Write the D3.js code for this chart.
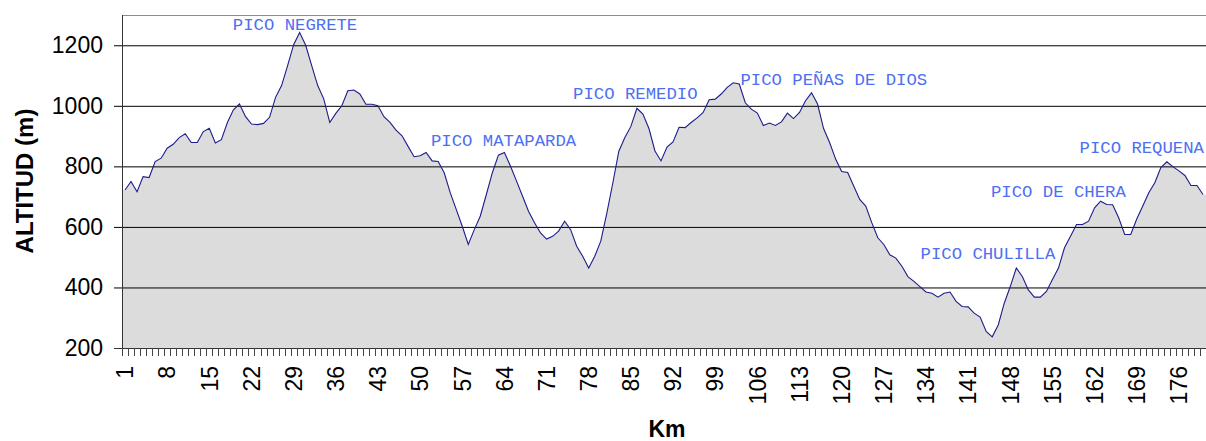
<!DOCTYPE html>
<html>
<head>
<meta charset="utf-8">
<script src="https://cdn.jsdelivr.net/npm/d3@7"></script>
<style>
  body { margin: 0; background: #fff; }
  svg { display: block; }
</style>
</head>
<body>
<svg id="profileChart"></svg>
<script>
// altitude (m) at every km of the route
var altitudes = [
  722, 750, 716, 766, 763, 816, 827, 860, 873, 895,
  908, 879, 879, 915, 926, 877, 888, 945, 987, 1006,
  965, 940, 938, 942, 962, 1028, 1067, 1133, 1202, 1242,
  1200, 1133, 1067, 1023, 945, 975, 1000, 1050, 1052, 1039,
  1005, 1005, 1000, 964, 945, 920, 901, 866, 832, 835,
  846, 818, 816, 779, 713, 658, 602, 542, 591, 636,
  707, 779, 837, 846, 801, 752, 702, 652, 614, 580,
  560, 569, 586, 619, 591, 536, 503, 464, 503, 553,
  645, 745, 850, 895, 932, 992, 973, 925, 851, 818,
  864, 881, 929, 928, 945, 960, 978, 1020, 1022, 1039,
  1061, 1076, 1072, 1010, 989, 976, 935, 943, 935, 947,
  976, 958, 978, 1017, 1043, 1006, 925, 879, 824, 783,
  780, 735, 691, 669, 614, 564, 542, 508, 497, 470,
  436, 420, 403, 385, 381, 368, 381, 385, 354, 337,
  336, 315, 302, 255, 237, 276, 348, 403, 464, 436,
  392, 368, 368, 387, 426, 464, 531, 569, 608, 608,
  619, 663, 685, 674, 673, 630, 575, 575, 626, 669,
  713, 746, 796, 815, 799, 785, 770, 737, 737, 707
];
var km = altitudes.map(function (d, i) { return i + 1; });

var yTicks = [200, 400, 600, 800, 1000, 1200];
var kmLabels = km.filter(function (d) { return (d - 1) % 7 === 0; });

// peak names, where their text starts (km) and its baseline (m)
var peakNames = ["PICO NEGRETE", "PICO MATAPARDA", "PICO REMEDIO", "PICO PEÑAS DE DIOS",
                 "PICO CHULILLA", "PICO DE CHERA", "PICO REQUENA"];
var peakKm = [18.9, 51.8, 75.4, 103.2, 133.1, 144.8, 159.5];
var peakAlt = [1250, 867, 1021, 1069, 494, 700, 844];

var width = 1206, height = 441;
var margin = {top: 15, right: 0, bottom: 93, left: 122};

var svg = d3.select("#profileChart")
  .attr("width", width)
  .attr("height", height);

var x = d3.scaleBand()
  .domain(km)
  .range([margin.left, width - margin.right])
  .paddingInner(0).paddingOuter(0);
var bw = x.bandwidth();

// continuous km scale matching the bands, for the text labels
var xk = d3.scaleLinear()
  .domain([0.5, km.length + 0.5])
  .range([margin.left, width - margin.right]);

var y = d3.scaleLinear()
  .domain([200, 1300])
  .range([height - margin.bottom, margin.top]);

// area runs to the plot edges, line from first to last point
var pts = altitudes.map(function (v, i) { return {px: x(km[i]) + bw / 2, v: v}; });
var areaPts = [{px: x(km[0]), v: altitudes[0]}].concat(pts)
  .concat([{px: x(km[km.length - 1]) + bw, v: altitudes[altitudes.length - 1]}]);

svg.append("path")
  .datum(areaPts)
  .attr("fill", "#dcdcdc")
  .attr("d", d3.area()
    .x(function (d) { return d.px; })
    .y0(y(200))
    .y1(function (d) { return y(d.v); }));

// top border
svg.append("line")
  .attr("x1", margin.left).attr("x2", width)
  .attr("y1", y(1300) + 0.5).attr("y2", y(1300) + 0.5)
  .attr("stroke", "#8c8c8c");

// gridlines + left ticks
svg.append("g")
  .attr("transform", "translate(" + margin.left + ",0)")
  .call(d3.axisLeft(y)
    .tickValues(yTicks)
    .tickSize(-(width - margin.left))
    .tickFormat(""))
  .call(function (g) {
    g.select(".domain").remove();
    g.selectAll(".tick line").attr("stroke", "#000").attr("x1", -8);
  });

svg.append("path")
  .datum(pts)
  .attr("fill", "none")
  .attr("stroke", "#1c1c8a")
  .attr("stroke-width", 1.1)
  .attr("d", d3.line()
    .x(function (d) { return d.px; })
    .y(function (d) { return y(d.v); }));

// y labels
svg.append("g")
  .attr("transform", "translate(" + margin.left + ",0)")
  .call(d3.axisLeft(y).tickValues(yTicks).tickSize(0).tickPadding(19).tickFormat(d3.format("d")))
  .call(function (g) {
    g.select(".domain").remove();
    g.selectAll("text")
      .attr("font-family", "Liberation Sans, Arial, sans-serif")
      .attr("font-size", 23)
      .attr("fill", "#000");
  });

// left axis line
svg.append("line")
  .attr("x1", margin.left + 0.5).attr("x2", margin.left + 0.5)
  .attr("y1", y(1300)).attr("y2", y(200))
  .attr("stroke", "#333");

// bottom axis line and minor ticks at band edges
svg.append("line")
  .attr("x1", margin.left - 8).attr("x2", width)
  .attr("y1", y(200) + 0.5).attr("y2", y(200) + 0.5)
  .attr("stroke", "#333");

svg.append("g")
  .selectAll("line")
  .data(km)
  .enter()
  .append("line")
    .attr("x1", function (d) { return Math.round(x(d)) + 0.5; })
    .attr("x2", function (d) { return Math.round(x(d)) + 0.5; })
    .attr("y1", y(200))
    .attr("y2", y(200) + 8)
    .attr("stroke", "#444");

// km labels, rotated
svg.append("g")
  .attr("transform", "translate(0," + y(200) + ")")
  .call(d3.axisBottom(x).tickValues(kmLabels).tickSize(0).tickPadding(0))
  .call(function (g) {
    g.select(".domain").remove();
    g.selectAll("text")
      .attr("font-family", "Liberation Sans, Arial, sans-serif")
      .attr("font-size", 23)
      .attr("fill", "#000")
      .attr("transform", "rotate(-90)")
      .attr("text-anchor", "end")
      .attr("x", -18)
      .attr("y", 0)
      .attr("dy", "0.36em");
  });

// axis titles
svg.append("text")
  .attr("transform", "translate(33,181) rotate(-90)")
  .attr("text-anchor", "middle")
  .attr("font-family", "Liberation Sans, Arial, sans-serif")
  .attr("font-weight", "bold")
  .attr("font-size", 24)
  .text("ALTITUD (m)");

svg.append("text")
  .attr("x", 667)
  .attr("y", 437)
  .attr("text-anchor", "middle")
  .attr("font-family", "Liberation Sans, Arial, sans-serif")
  .attr("font-weight", "bold")
  .attr("font-size", 23)
  .text("Km");

// peak names
svg.append("g")
  .selectAll("text")
  .data(peakNames)
  .enter()
  .append("text")
    .attr("x", function (d, i) { return xk(peakKm[i]); })
    .attr("y", function (d, i) { return y(peakAlt[i]); })
    .attr("font-family", "Liberation Mono, Courier New, monospace")
    .attr("font-size", 17.3)
    .attr("fill", "#4d6ff2")
    .text(function (d) { return d; });
</script>
</body>
</html>
